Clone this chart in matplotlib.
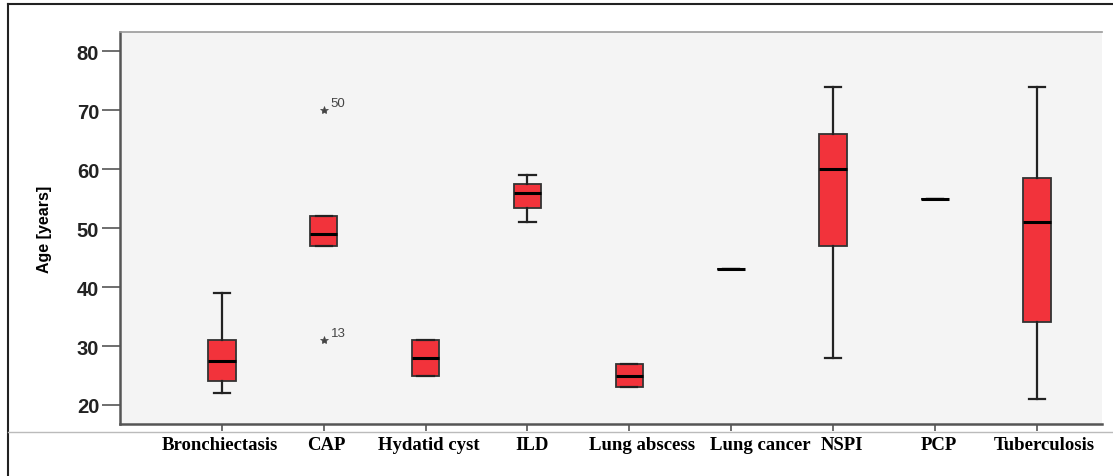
import matplotlib
matplotlib.use("Agg")
import matplotlib.pyplot as plt
from matplotlib.lines import Line2D

# data (ages in years)
groups = ['Bronchiectasis', 'CAP', 'Hydatid cyst', 'ILD', 'Lung abscess',
          'Lung cancer', 'NSPI', 'PCP', 'Tuberculosis']
whis_lo = [22, 47, 25, 51, 23, 43, 28, 55, 21]
q1 = [24, 47, 25, 53.5, 23, 43, 47, 55, 34]
median = [27.5, 49, 28, 56, 25, 43, 60, 55, 51]
q3 = [31, 52, 31, 57.5, 27, 43, 66, 55, 58.5]
whis_hi = [39, 52, 31, 59, 27, 43, 74, 55, 74]
outliers = {'CAP': [70, 31]}
outlier_ids = {'CAP': ['50', '13']}

# the original category labels sit a little right of their ticks (pixels)
label_shift = [-2, 3, 3, 5, 13, 29, 9, 4, 8]

fig = plt.figure(figsize=(11.13, 4.77), dpi=100)
ax = fig.add_axes([0.1078, 0.109, 0.8823, 0.8218])
ax.set_facecolor('#f4f4f4')

stats = []
for i, g in enumerate(groups):
    stats.append({'label': g, 'whislo': whis_lo[i], 'q1': q1[i], 'med': median[i],
                  'q3': q3[i], 'whishi': whis_hi[i], 'fliers': outliers.get(g, [])})

pos = list(range(1, len(groups) + 1))
ax.bxp(stats, positions=pos, widths=0.27, patch_artist=True,
       boxprops=dict(facecolor='#f2333b', edgecolor='#333333', linewidth=1.3),
       medianprops=dict(color='black', linewidth=2.2),
       whiskerprops=dict(color='#222222', linewidth=1.6),
       capprops=dict(color='#222222', linewidth=1.6),
       capwidths=0.16,
       flierprops=dict(marker='*', markersize=6, markerfacecolor='#444444',
                       markeredgecolor='#444444', markeredgewidth=0.5,
                       linestyle='none'))

for g, vals in outliers.items():
    x = groups.index(g) + 1
    for v, lab in zip(vals, outlier_ids[g]):
        ax.annotate(lab, (x, v), xytext=(5, 3), textcoords='offset points',
                    fontsize=9.5, color='#444444', family='Liberation Sans')

ax.set_xlim(0, 9.64)
ax.set_ylim(16.77, 83.3)
ax.set_yticks([20, 30, 40, 50, 60, 70, 80])
ax.set_xticks(pos)
ax.set_xticklabels([])
for p, g, dx in zip(pos, groups, label_shift):
    ax.annotate(g, xy=(p, 0), xycoords=('data', 'axes fraction'),
                xytext=(dx, -12), textcoords='offset pixels',
                ha='center', va='top', fontsize=13.5, fontweight='bold',
                family='Liberation Serif', annotation_clip=False)
for t in ax.get_yticklabels():
    t.set_fontsize(14.5)
    t.set_fontweight('bold')
    t.set_family('Liberation Sans')
    t.set_color('#222222')
ax.tick_params(axis='y', length=13, width=1.2, color='#555555', pad=2)
ax.tick_params(axis='x', length=5, width=1.2, color='#555555')
ax.set_ylabel('Age [years]', fontsize=11.5, fontweight='bold',
              family='Liberation Sans', labelpad=18)

ax.spines['right'].set_visible(False)
ax.spines['top'].set_color('#999999')
ax.spines['top'].set_linewidth(1.2)
ax.spines['left'].set_color('#555555')
ax.spines['left'].set_linewidth(1.8)
ax.spines['bottom'].set_color('#555555')
ax.spines['bottom'].set_linewidth(1.8)

# outer frame and separator lines
fig.add_artist(Line2D([8 / 1113, 8 / 1113], [0, 1 - 5 / 477], color='#222222', lw=1.5))
fig.add_artist(Line2D([8 / 1113, 1], [1 - 5 / 477, 1 - 5 / 477], color='#222222', lw=1.5))
fig.add_artist(Line2D([8 / 1113, 1], [1 - 433 / 477, 1 - 433 / 477], color='#bbbbbb', lw=1))

fig.savefig('out.png', dpi=100)
